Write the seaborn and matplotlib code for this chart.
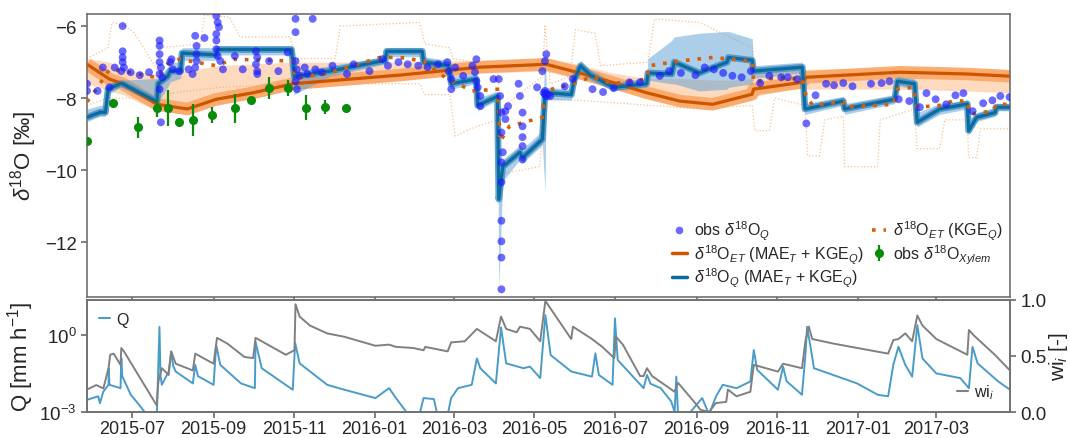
import numpy as np
import pandas as pd
import matplotlib
matplotlib.use("Agg")
import matplotlib.pyplot as plt
import matplotlib.dates as mdates
from matplotlib.lines import Line2D
from matplotlib.ticker import FixedLocator, NullLocator, LogFormatterMathtext, FormatStrFormatter
import seaborn as sns

# ---------------- data (days since ORIGIN) ----------------
ORIGIN = "2015-05-28"
X_END_DAY = 699.3

# simulated d18O in discharge (MAE_T + KGE_Q): best run and ensemble envelope
q_sim_day = [0, 10, 14, 16, 25, 27, 53, 54, 61, 63, 71, 72, 98, 99, 155, 157, 184, 226, 227, 254, 255,
             274, 276, 295, 296, 311, 312, 315, 328, 330, 345, 347, 348, 367, 369, 374, 381, 399, 424,
             425, 443, 445, 464, 485, 486, 504, 505, 542, 544, 573, 574, 612, 614, 627, 629, 646, 667,
             668, 674, 688, 689, 699]
q_sim_val = [-8.53, -8.39, -8.39, -7.75, -7.6, -7.6, -8.1, -7.6, -7.4, -7.25, -7.25, -6.75, -6.8, -6.65,
             -6.65, -7.4, -7.25, -6.95, -6.7, -6.7, -7.0, -7.1, -7.6, -7.47, -8.2, -7.95, -10.8, -9.9,
             -9.5, -9.65, -9.14, -7.85, -7.85, -7.9, -7.5, -7.1, -7.35, -7.7, -7.6, -7.3, -7.33, -7.0,
             -7.3, -7.0, -6.87, -6.95, -7.25, -7.14, -8.3, -8.08, -8.3, -8.03, -7.53, -7.6, -8.67, -8.3,
             -8.16, -8.9, -8.53, -8.4, -8.25, -8.25]
q_sim_hi = [-8.3, -8.2, -8.2, -7.6, -7.5, -7.5, -7.45, -7.4, -7.15, -7.0, -7.0, -6.6, -6.6, -6.55, -6.55,
            -7.25, -7.1, -6.85, -6.6, -6.6, -6.85, -6.95, -7.4, -7.3, -8.0, -7.8, -10.3, -9.7, -9.3, -9.4,
            -8.9, -6.6, -7.7, -7.75, -7.35, -6.95, -7.2, -7.55, -7.45, -6.9, -6.4, -6.3, -6.2, -6.15,
            -6.15, -6.35, -7.1, -7.0, -8.15, -7.95, -8.15, -7.9, -7.4, -7.45, -8.4, -8.15, -8.05, -8.7,
            -8.4, -8.25, -8.15, -8.15]
q_sim_lo = [-8.65, -8.5, -8.5, -7.9, -7.7, -7.7, -8.15, -8.1, -7.7, -7.55, -7.45, -6.95, -6.95, -6.8,
            -6.8, -7.9, -7.4, -7.05, -6.85, -6.85, -7.15, -7.25, -7.75, -7.6, -8.35, -8.05, -13.3, -10.3,
            -9.7, -9.8, -9.3, -10.6, -8.05, -8.05, -7.65, -7.3, -7.5, -7.8, -7.7, -7.5, -7.6, -7.6, -7.8,
            -7.75, -7.7, -7.6, -7.45, -7.3, -8.45, -8.2, -8.45, -8.15, -7.65, -7.75, -8.8, -8.45, -8.3,
            -9.0, -8.65, -8.5, -8.35, -8.35]

# simulated d18O in ET (MAE_T + KGE_Q)
et_day = [0, 17, 27, 53, 76, 98, 126, 156, 237, 298, 348, 371, 398, 424, 449, 474, 489, 504, 505, 542,
          545, 616, 667, 699]
et_val = [-7.06, -7.47, -7.6, -8.17, -8.3, -8.03, -7.85, -7.6, -7.36, -7.14, -7.06, -7.28, -7.56, -7.85,
          -8.08, -8.17, -8.03, -7.89, -7.75, -7.56, -7.42, -7.28, -7.33, -7.39]
et_hi = [-6.9, -7.0, -7.2, -7.35, -7.25, -7.1, -7.05, -7.0, -7.0, -6.95, -6.9, -7.05, -7.3, -7.45, -7.45,
         -7.5, -7.5, -7.45, -7.2, -7.2, -7.2, -7.15, -7.2, -7.25]
et_lo = [-7.6, -7.8, -7.9, -8.35, -8.45, -8.2, -8.0, -7.75, -7.5, -7.3, -7.25, -7.45, -7.7, -8.0, -8.2,
         -8.3, -8.2, -8.05, -7.95, -7.7, -7.75, -7.75, -7.8, -7.85]

# simulated d18O in ET (KGE_Q only): best run and faint ensemble envelope
kge_day = [0, 8, 17, 27, 35, 53, 61, 70, 98, 111, 156, 158, 184, 222, 237, 255, 273, 292, 311, 313, 320,
           345, 347, 368, 383, 398, 424, 426, 449, 474, 504, 505, 523, 542, 545, 550, 573, 574, 611, 614,
           626, 629, 646, 656, 667, 669, 686, 689, 699]
kge_val = [-8.1, -7.7, -7.2, -7.25, -7.3, -7.43, -7.06, -6.92, -7.1, -6.92, -6.97, -7.45, -7.3, -6.87,
           -6.87, -6.97, -7.47, -7.8, -7.75, -9.2, -8.78, -8.53, -7.8, -7.6, -7.4, -7.6, -7.47, -7.1,
           -6.97, -6.87, -6.97, -7.56, -7.42, -7.47, -7.97, -8.2, -8.1, -8.25, -8.17, -7.75, -7.7, -8.25,
           -8.2, -8.08, -8.08, -8.44, -8.36, -8.17, -8.17]
kenv_hi_day = [0, 16, 19, 29, 36, 53, 55, 86, 89, 108, 116, 154, 158, 188, 192, 252, 256, 275, 277, 311,
               313, 345, 347, 351, 366, 370, 385, 389, 425, 430, 464, 487, 504, 506, 699]
kenv_hi_val = [-6.9, -6.6, -5.9, -6.0, -6.2, -7.2, -6.6, -6.5, -5.7, -5.75, -6.3, -6.3, -6.9, -6.9, -6.0,
               -5.9, -6.5, -6.6, -6.9, -7.1, -8.3, -7.4, -6.0, -7.6, -7.4, -6.1, -6.2, -7.1, -7.0, -5.8,
               -5.9, -6.3, -6.6, -7.3, -7.3]
kenv_lo_day = [0, 16, 53, 55, 101, 157, 252, 256, 275, 279, 294, 311, 313, 343, 347, 389, 464, 504, 506,
               517, 521, 544, 546, 555, 559, 573, 574, 599, 601, 627, 629, 646, 650, 667, 668, 674, 677,
               699]
kenv_lo_val = [-8.2, -8.0, -8.0, -7.9, -7.7, -7.6, -7.6, -7.9, -7.9, -9.05, -8.8, -8.6, -10.1, -9.9,
               -8.0, -8.1, -8.3, -8.2, -8.9, -8.9, -8.0, -8.2, -9.6, -9.6, -8.6, -8.5, -9.9, -9.9, -8.6,
               -8.3, -9.4, -9.4, -8.6, -8.6, -9.65, -9.65, -8.85, -8.85]

# observed d18O in discharge
obs_day = [0, 0, 8, 12, 17, 21, 26, 27, 27, 27, 27, 28, 33, 40, 47, 55, 55, 55, 55, 55, 55, 56, 56, 57,
           63, 64, 65, 70, 77, 80, 82, 82, 83, 83, 83, 89, 98, 98, 98, 98, 99, 99, 100, 101, 103, 112,
           118, 128, 128, 129, 129, 129, 138, 145, 152, 158, 158, 158, 158, 159, 159, 161, 165, 167, 171,
           173, 178, 186, 197, 202, 214, 224, 228, 236, 243, 251, 258, 266, 273, 274, 276, 276, 279, 285,
           292, 294, 295, 295, 296, 298, 298, 308, 312, 313, 314, 314, 314, 314, 314, 314, 314, 314, 315,
           317, 317, 319, 327, 328, 330, 330, 330, 330, 330, 341, 345, 346, 347, 347, 347, 348, 348, 349,
           351, 362, 368, 383, 391, 399, 411, 419, 434, 441, 450, 461, 468, 475, 482, 489, 496, 503, 510,
           517, 526, 531, 538, 545, 552, 560, 566, 573, 580, 594, 602, 608, 615, 623, 631, 636, 643, 651,
           658, 664, 671, 679, 686, 692, 699]
obs_val = [-7.6, -7.8, -7.8, -7.15, -7.7, -7.15, -7.25, -6.0, -6.7, -6.87, -7.0, -7.15, -7.28, -7.36,
           -7.28, -6.78, -7.33, -7.75, -6.4, -6.55, -7.0, -7.15, -8.67, -7.42, -7.0, -6.92, -7.2, -7.25,
           -7.2, -7.33, -6.27, -7.15, -6.55, -6.78, -6.97, -6.33, -5.72, -6.22, -6.4, -6.64, -5.9, -6.83,
           -6.03, -6.97, -7.2, -6.83, -7.2, -6.7, -7.06, -6.87, -7.25, -7.33, -6.97, -7.25, -6.73, -5.8,
           -6.97, -6.17, -7.53, -7.2, -7.75, -7.38, -7.15, -7.33, -5.8, -7.2, -7.28, -7.1, -7.33, -7.06,
           -7.25, -6.92, -7.1, -7.0, -7.06, -7.1, -7.14, -7.06, -7.0, -7.25, -7.47, -7.75, -7.15, -7.38,
           -7.1, -7.28, -6.92, -7.53, -7.7, -7.94, -8.22, -7.47, -7.47, -7.94, -8.4, -10.33, -11.4, -11.97,
           -12.42, -13.3, -8.95, -9.78, -9.5, -8.58, -8.36, -8.22, -7.6, -7.94, -9.08, -9.33, -9.7, -8.4,
           -8.78, -7.7, -7.25, -7.85, -6.97, -7.89, -7.8, -6.78, -7.95, -7.9, -7.94, -7.67, -7.47, -7.75,
           -7.83, -7.72, -7.56, -7.56, -7.38, -7.25, -7.3, -7.36, -7.15, -7.2, -7.3, -7.38, -7.42, -7.25,
           -7.58, -7.38, -7.42, -7.42, -7.47, -8.7, -7.92, -7.6, -7.64, -7.58, -7.67, -7.6, -7.58, -7.53,
           -8.03, -8.08, -8.25, -7.86, -8.03, -8.17, -7.92, -7.86, -8.36, -8.14, -8.06, -7.94, -7.97]

# observed d18O in xylem water (mean and error)
xyl_day = [0, 20, 39, 53, 61, 70, 80, 95, 112, 124, 138, 152, 166, 180, 196]
xyl_val = [-9.19, -8.14, -8.81, -8.26, -8.28, -8.67, -8.61, -8.47, -8.28, -8.05, -7.72, -7.72, -8.26,
           -8.24, -8.26]
xyl_err = [0.05, 0.08, 0.3, 0.25, 0.5, 0.05, 0.45, 0.22, 0.4, 0.05, 0.3, 0.23, 0.35, 0.2, 0.07]

# discharge Q [mm/h]
q_day = [0, 8.5, 9.8, 12.4, 16.3, 16.5, 17, 25.4, 26, 26.7,
         33.2, 38.5, 43.7, 48.9, 52.8, 53.6, 54.9, 55.7, 56.7, 61.9,
         63.8, 65.3, 67.2, 80.2, 82, 84.1, 95.9, 97.9, 101, 116.7,
         127.2, 127.7, 132.4, 155.9, 157.7, 161.1, 182, 195, 218.5, 228.9,
         234.1, 242, 252.4, 255, 262.8, 265.4, 273.3, 275.9, 281.1, 291.5,
         295.4, 298, 309.8, 313.7, 317.6, 330.7, 335.6, 343.4, 347.3, 351.3,
         366.9, 382.6, 385.2, 387.8, 398.2, 400, 402.1, 421.7, 424.3, 427,
         434.7, 442.6, 445.2, 446.5, 447.8, 455.6, 466.1, 471.3, 476.5, 481.7,
         492.1, 502.6, 505.2, 507.8, 523.5, 527.4, 530, 541.7, 544.3, 545.6,
         548.2, 550.8, 565.2, 583.5, 599.1, 607, 610.9, 614.8, 620, 625.2,
         629.1, 633, 643.5, 661.7, 668.2, 670.9, 674.8, 690.4, 699.3]
q_val = [0.0030, 0.0041, 0.0022, 0.0063, 0.0115, 0.051, 0.0115, 0.0085, 0.126, 0.025,
         0.0047, 0.0022, 0.0010, 0.0005, 0.0005, 0.0115, 2.1, 0.025, 0.0115, 0.038,
         0.22, 0.063, 0.038, 0.013, 0.069, 0.025, 0.0115, 0.41, 0.069, 0.013,
         0.0085, 0.55, 0.051, 0.0074, 0.5, 0.079, 0.0115, 0.0074, 0.0035, 0.0085,
         0.0035, 0.0010, 0.0010, 0.0035, 0.0032, 0.0008, 0.0008, 0.0035, 0.0085, 0.0115,
         0.123, 0.051, 0.013, 2.0, 0.079, 0.051, 0.059, 0.021, 6.0, 0.166,
         0.038, 0.024, 0.195, 0.028, 0.0115, 4.5, 0.107, 0.0085, 0.028, 0.0126,
         0.0085, 0.0026, 0.0010, 0.024, 0.0008, 0.0008, 0.0035, 0.0008, 0.004, 0.0115,
         0.0085, 0.0155, 0.26, 0.044, 0.0074, 0.059, 0.016, 0.0047, 0.166, 2.1,
         0.35, 0.051, 0.028, 0.013, 0.0047, 0.0041, 0.069, 0.35, 0.069, 0.024,
         2.45, 0.123, 0.032, 0.021, 0.0085, 0.35, 0.079, 0.0155, 0.0074]

# wetness index wi_i [-]
wi_day = [0, 7, 12.4, 16.3, 17.6, 20.2, 25.4, 26, 28, 52.8,
          54.1, 56.7, 61.9, 63.8, 67.2, 80.2, 82, 95.9, 98.5, 106.3,
          119.3, 125.9, 127.7, 132.4, 150.6, 157.2, 158, 161.1, 168.9, 182,
          195, 218.5, 228.9, 234.1, 247.2, 255, 256.3, 273.3, 275.9, 286.3,
          295.4, 309.8, 313.7, 317.6, 325.5, 328.1, 335.6, 343.4, 347.3, 351.3,
          366.9, 368.2, 382.6, 390.4, 399.5, 400.8, 406, 419.1, 421.7, 424.3,
          428.2, 445.2, 447.8, 460.8, 464.8, 471.3, 476.5, 484.3, 485.6, 492.1,
          502.6, 505.2, 523.5, 527.4, 541.7, 544.3, 546.9, 549.5, 565.2, 607,
          610.9, 614.8, 620, 625.2, 629.1, 633, 643.5, 667, 668.2, 672.1,
          687.8, 699.3]
wi_val = [0.20, 0.24, 0.21, 0.39, 0.51, 0.52, 0.42, 0.57, 0.54, 0.06,
          0.27, 0.39, 0.33, 0.54, 0.43, 0.37, 0.52, 0.43, 0.66, 0.61,
          0.49, 0.48, 0.66, 0.63, 0.51, 0.55, 0.96, 0.85, 0.77, 0.70,
          0.67, 0.59, 0.60, 0.58, 0.57, 0.55, 0.58, 0.54, 0.62, 0.63,
          0.74, 0.63, 0.85, 0.74, 0.71, 0.76, 0.74, 0.63, 0.99, 0.92,
          0.65, 0.76, 0.65, 0.58, 0.48, 0.67, 0.60, 0.32, 0.32, 0.39,
          0.32, 0.18, 0.26, 0.08, 0.02, 0.0, 0.08, 0.09, 0.20, 0.14,
          0.18, 0.42, 0.36, 0.43, 0.39, 0.63, 0.76, 0.65, 0.61, 0.52,
          0.64, 0.65, 0.70, 0.63, 0.86, 0.77, 0.65, 0.51, 0.73, 0.68,
          0.51, 0.37]

# ---------------- labels ----------------
lbl_obs_q = r"obs $\delta^{18}$O$_{Q}$"
lbl_et = r"$\delta^{18}$O$_{ET}$ (MAE$_{T}$ + KGE$_{Q}$)"
lbl_q = r"$\delta^{18}$O$_{Q}$ (MAE$_{T}$ + KGE$_{Q}$)"
lbl_kge = r"$\delta^{18}$O$_{ET}$ (KGE$_{Q}$)"
lbl_xyl = r"obs $\delta^{18}$O$_{Xylem}$"


def to_dates(days):
    return pd.Timestamp(ORIGIN) + pd.to_timedelta(np.asarray(days, dtype=float), unit="D")


# ---------------- style ----------------
sns.set_theme(style="ticks")
EDGE = "#707070"
plt.rcParams.update({
    "font.family": ["Liberation Sans", "DejaVu Sans"],
    "mathtext.fontset": "custom",
    "mathtext.rm": "Liberation Sans",
    "mathtext.it": "Liberation Sans:italic",
    "mathtext.bf": "Liberation Sans:bold",
    "axes.edgecolor": EDGE,
    "axes.linewidth": 1.2,
    "xtick.color": EDGE,
    "ytick.color": EDGE,
    "xtick.labelcolor": "#262626",
    "ytick.labelcolor": "#262626",
    "xtick.labelsize": 13,
    "ytick.labelsize": 13.5,
    "xtick.major.size": 4,
    "ytick.major.size": 4,
    "axes.labelsize": 16,
    "axes.labelcolor": "#262626",
})

C_OBS = "#1a1aff"
C_QLINE = "#0b6a9f"
C_QBAND = "#5a9fd2"
C_QCORE = "#3f8dc4"
C_ETLINE = "#cc5500"
C_ETBAND = "#fba664"
C_KGE = "#d2600a"
C_KENV = "#fbbf8f"
C_XYL = "#0a8a0a"
C_QFLOW = "#4a9cc8"
C_WI = "#808080"

fig = plt.figure(figsize=(10.7, 4.39), dpi=100)
ax1 = fig.add_axes([0.0813, 0.3223, 0.8626, 0.644])
ax2 = fig.add_axes([0.0813, 0.0592, 0.8626, 0.2558], sharex=ax1)

# faint ensemble of KGE_Q-only runs
for d, v in [(kenv_hi_day, kenv_hi_val), (kenv_lo_day, kenv_lo_val)]:
    sns.lineplot(x=to_dates(d), y=v, ax=ax1, sort=False, estimator=None, color=C_KENV,
                 lw=0.9, ls=":", zorder=1)

# ET ensemble envelope and core
ax1.fill_between(to_dates(et_day), et_lo, et_hi, color=C_ETBAND, alpha=0.42, lw=0, zorder=2)
sns.lineplot(x=to_dates(et_day), y=et_val, ax=ax1, sort=False, estimator=None, color=C_ETBAND,
             lw=9, alpha=0.9, zorder=2.2, solid_capstyle="butt")

# Q ensemble envelope and core
ax1.fill_between(to_dates(q_sim_day), q_sim_lo, q_sim_hi, color=C_QBAND, alpha=0.5, lw=0, zorder=3)
sns.lineplot(x=to_dates(q_sim_day), y=q_sim_val, ax=ax1, sort=False, estimator=None, color=C_QCORE,
             lw=4.8, alpha=0.8, zorder=3.2)

# best runs
sns.lineplot(x=to_dates(et_day), y=et_val, ax=ax1, sort=False, estimator=None, color=C_ETLINE,
             lw=2.3, zorder=4)
sns.lineplot(x=to_dates(q_sim_day), y=q_sim_val, ax=ax1, sort=False, estimator=None, color=C_QLINE,
             lw=2.3, zorder=4.5)
sns.lineplot(x=to_dates(kge_day), y=kge_val, ax=ax1, sort=False, estimator=None, color=C_KGE,
             lw=2.6, ls=(0, (1, 2.2)), zorder=5)

# observations
sns.scatterplot(x=to_dates(obs_day), y=obs_val, ax=ax1, color=C_OBS, alpha=0.65, s=32,
                edgecolor="none", zorder=6)
xyl = ax1.errorbar(to_dates(xyl_day), xyl_val, yerr=xyl_err, fmt="o", color=C_XYL, ms=5.5,
                   elinewidth=1.6, capsize=0, zorder=7)

ax1.set_ylim(-13.5, -5.66)
ax1.set_xlim(to_dates([0])[0], to_dates([X_END_DAY])[0])
ax1.yaxis.set_major_locator(FixedLocator([-12, -10, -8, -6]))
ax1.set_ylabel(r"$\delta^{18}$O [‰]", labelpad=4)
ax1.tick_params(axis="x", labelbottom=False)
for s in ax1.spines.values():
    s.set_visible(True)

h_obs = Line2D([], [], marker="o", ls="none", color=C_OBS, alpha=0.65, ms=5.5, mec="none")
h_et = Line2D([], [], color=C_ETLINE, lw=2.5)
h_q = Line2D([], [], color=C_QLINE, lw=2.5)
h_kge = Line2D([], [], color=C_KGE, lw=2.6, ls=(0, (1, 2.2)))
ax1.legend([h_obs, h_et, h_q, h_kge, xyl], [lbl_obs_q, lbl_et, lbl_q, lbl_kge, lbl_xyl],
           ncol=2, loc="lower right", frameon=False, fontsize=11.5, handlelength=0.9,
           columnspacing=0.5, labelspacing=0.02, handletextpad=0.45, borderaxespad=0.05)

# ---------------- bottom panel ----------------
sns.lineplot(x=to_dates(q_day), y=q_val, ax=ax2, sort=False, estimator=None, color=C_QFLOW, lw=1.4)
ax2.set_yscale("log")
ax2.set_ylim(1e-3, 24)
ax2.yaxis.set_major_locator(FixedLocator([1e-3, 1e0]))
ax2.yaxis.set_major_formatter(LogFormatterMathtext())
ax2.yaxis.set_minor_locator(NullLocator())
ax2.set_ylabel(r"Q [mm h$^{-1}$]", labelpad=2)
ax2.xaxis.set_major_locator(mdates.MonthLocator(bymonth=[1, 3, 5, 7, 9, 11]))
ax2.xaxis.set_major_formatter(mdates.DateFormatter("%Y-%m"))
ax2.tick_params(axis="x", pad=1.5)
ax2.legend([Line2D([], [], color=C_QFLOW, lw=1.5)], ["Q"], loc="upper left", frameon=False,
           fontsize=11.5, handlelength=0.7, handletextpad=0.4, borderaxespad=0.35)

ax3 = ax2.twinx()
sns.lineplot(x=to_dates(wi_day), y=wi_val, ax=ax3, sort=False, estimator=None, color=C_WI, lw=1.4)
ax3.set_ylim(0, 1)
ax3.yaxis.set_major_locator(FixedLocator([0.0, 0.5, 1.0]))
ax3.yaxis.set_major_formatter(FormatStrFormatter("%.1f"))
ax3.set_ylabel(r"wi$_i$ [-]", labelpad=0, fontsize=15)
ax3.legend([Line2D([], [], color=C_WI, lw=1.5)], [r"wi$_i$"], loc="lower right", frameon=False,
           fontsize=11.5, handlelength=0.7, handletextpad=0.4, borderaxespad=0.3,
           bbox_to_anchor=(0.995, 0.0))
ax2.set_xlim(to_dates([0])[0], to_dates([X_END_DAY])[0])
ax2.set_xlabel("")
ax3.set_xlabel("")

fig.savefig("out.png", dpi=100)
